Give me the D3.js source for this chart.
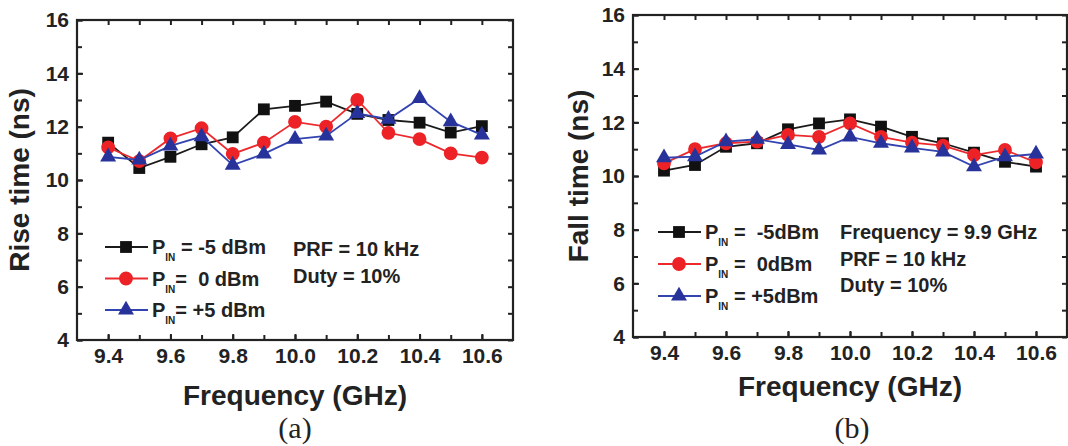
<!DOCTYPE html>
<html>
<head>
<meta charset="utf-8">
<script src="https://cdn.jsdelivr.net/npm/d3@7"></script>
<style>
  html, body { margin: 0; padding: 0; background: #fff; }
  svg { display: block; }
  text { font-family: "Liberation Sans", Arial, sans-serif; font-weight: bold; fill: #222; white-space: pre; }
</style>
</head>
<body>
<svg id="chart" width="1068" height="446"></svg>
<script>
// frequency points (GHz)
const freq = [9.4, 9.5, 9.6, 9.7, 9.8, 9.9, 10.0, 10.1, 10.2, 10.3, 10.4, 10.5, 10.6];
const xTicks = [9.4, 9.6, 9.8, 10.0, 10.2, 10.4, 10.6];
const yTicks = [4, 6, 8, 10, 12, 14, 16];
const yMinor = [5, 7, 9, 11, 13, 15];

// (a) rise time (ns)
const riseM5 = [11.4, 10.45, 10.87, 11.34, 11.6, 12.65, 12.78, 12.94, 12.48, 12.25, 12.15, 11.78, 12.02];
const rise0  = [11.22, 10.71, 11.56, 11.94, 10.98, 11.4, 12.18, 12.0, 13.0, 11.77, 11.53, 11.0, 10.84];
const riseP5 = [10.87, 10.75, 11.28, 11.63, 10.56, 10.98, 11.53, 11.65, 12.5, 12.28, 13.06, 12.19, 11.69];

// (b) fall time (ns)
const fallM5 = [10.2, 10.41, 11.09, 11.22, 11.74, 11.96, 12.11, 11.84, 11.46, 11.22, 10.87, 10.53, 10.35];
const fall0  = [10.47, 11.0, 11.22, 11.28, 11.53, 11.46, 11.96, 11.46, 11.24, 11.13, 10.78, 10.97, 10.51];
const fallP5 = [10.68, 10.72, 11.28, 11.37, 11.18, 10.97, 11.46, 11.22, 11.05, 10.9, 10.35, 10.72, 10.82];

const svg = d3.select('#chart');

const styles = [
    { color: '#1b1b1b', fill: '#111', shape: d3.symbolSquare, size: 140 },
    { color: '#ec2a2e', fill: '#ec2226', shape: d3.symbolCircle, size: 150 },
    { color: '#3344b0', fill: '#27339a', shape: d3.symbolTriangle, size: 110 }
];

function drawPanel(p) {
    const x = d3.scaleLinear().domain([9.3, 10.7]).range([p.left, p.right]);
    const y = d3.scaleLinear().domain([4, 16]).range([p.bottom, p.top]);
    const g = svg.append('g');

    // minor ticks (inward) on all four sides
    const minorAxes = [
        [d3.axisBottom(x).tickValues(freq), p.bottom, 'x'],
        [d3.axisTop(x).tickValues(freq), p.top, 'x'],
        [d3.axisLeft(y).tickValues(yMinor.concat(yTicks)), p.left, 'y'],
        [d3.axisRight(y).tickValues(yMinor.concat(yTicks)), p.right, 'y']
    ];
    minorAxes.forEach(function(a) {
        const ax = a[0].tickSize(-5).tickFormat('');
        const ag = g.append('g')
            .attr('transform', a[2] === 'x' ? 'translate(0,' + a[1] + ')' : 'translate(' + a[1] + ',0)')
            .call(ax);
        ag.select('.domain').remove();
        ag.selectAll('line').attr('stroke', '#222').attr('stroke-width', 2);
    });

    // labels
    const xa = g.append('g')
        .attr('transform', 'translate(0,' + p.bottom + ')')
        .call(d3.axisBottom(x).tickValues(xTicks).tickSize(-6).tickPadding(p.xPad).tickFormat(d3.format('.1f')));
    xa.select('.domain').remove();
    xa.selectAll('line').attr('stroke', '#222').attr('stroke-width', 2);
    xa.selectAll('text').attr('font-size', p.tickFont).style('font-family', '"Liberation Sans", Arial, sans-serif')
        .style('font-weight', 'bold').attr('fill', '#222');

    const ya = g.append('g')
        .attr('transform', 'translate(' + p.left + ',0)')
        .call(d3.axisLeft(y).tickValues(yTicks).tickSize(-6).tickPadding(p.yPad));
    ya.select('.domain').remove();
    ya.selectAll('line').attr('stroke', '#222').attr('stroke-width', 2);
    ya.selectAll('text').attr('font-size', p.tickFont).style('font-family', '"Liberation Sans", Arial, sans-serif')
        .style('font-weight', 'bold').attr('fill', '#222');

    // frame
    g.append('rect')
        .attr('x', p.left).attr('y', p.top)
        .attr('width', p.right - p.left).attr('height', p.bottom - p.top)
        .attr('fill', 'none').attr('stroke', '#222').attr('stroke-width', 2.2);

    // series
    const line = d3.line().x(function(d) { return x(d[0]); }).y(function(d) { return y(d[1]); });
    p.series.forEach(function(vals, i) {
        const st = styles[i];
        const pts = freq.map(function(f, j) { return [f, vals[j]]; });
        g.append('path').attr('d', line(pts)).attr('fill', 'none')
            .attr('stroke', st.color).attr('stroke-width', 1.8);
        g.selectAll(null).data(pts).enter().append('path')
            .attr('transform', function(d) { return 'translate(' + x(d[0]) + ',' + y(d[1]) + ')'; })
            .attr('d', d3.symbol().type(st.shape).size(st.size))
            .attr('fill', st.fill);
    });

    // legend
    p.legend.forEach(function(lbl, i) {
        const st = styles[i];
        const ly = p.legY + i * p.legStep;
        g.append('line').attr('x1', p.legX).attr('x2', p.legX + 43).attr('y1', ly).attr('y2', ly)
            .attr('stroke', st.color).attr('stroke-width', 1.8);
        g.append('path').attr('transform', 'translate(' + (p.legX + 21) + ',' + ly + ')')
            .attr('d', d3.symbol().type(st.shape).size(st.size)).attr('fill', st.fill);
        const t = g.append('text').attr('x', p.legX + 47).attr('y', ly + 7).attr('font-size', p.legFont);
        t.append('tspan').text('P');
        t.append('tspan').attr('font-size', 10).attr('dy', 7).text('IN');
        t.append('tspan').attr('dy', -7).text(lbl);
    });
    p.notes.forEach(function(n, i) {
        g.append('text').attr('x', p.noteX).attr('y', p.noteY + i * p.noteStep)
            .attr('font-size', p.legFont).text(n);
    });

    // axis titles
    g.append('text')
        .attr('transform', 'translate(' + p.yTitleX + ',' + ((p.top + p.bottom) / 2) + ') rotate(-90)')
        .attr('text-anchor', 'middle').attr('font-size', 28).text(p.yTitle);
    g.append('text').attr('x', (p.left + p.right) / 2).attr('y', p.xTitleY)
        .attr('text-anchor', 'middle').attr('font-size', 28).text('Frequency (GHz)');
    g.append('text').attr('x', p.capX).attr('y', 438)
        .attr('text-anchor', 'middle').attr('font-size', 30)
        .style('font-family', '"Liberation Serif", "Times New Roman", serif').style('font-weight', 'normal')
        .text(p.cap);
}

drawPanel({
    left: 77, right: 513, top: 20, bottom: 340,
    xPad: 8, yPad: 8, tickFont: 21,
    series: [riseM5, rise0, riseP5],
    legend: [' = -5 dBm', '=  0 dBm', '= +5 dBm'],
    legX: 105, legY: 247, legStep: 31.5, legFont: 20,
    notes: ['PRF = 10 kHz', 'Duty = 10%'], noteX: 293, noteY: 256, noteStep: 27,
    yTitle: 'Rise time (ns)', yTitleX: 29,
    xTitleY: 405, capX: 295, cap: '(a)'
});

drawPanel({
    left: 633, right: 1067, top: 15, bottom: 337,
    xPad: 8, yPad: 8, tickFont: 21,
    series: [fallM5, fall0, fallP5],
    legend: [' =  -5dBm', ' =  0dBm', ' = +5dBm'],
    legX: 658, legY: 232, legStep: 32, legFont: 20,
    notes: ['Frequency = 9.9 GHz', 'PRF = 10 kHz', 'Duty = 10%'], noteX: 840, noteY: 239, noteStep: 26.5,
    yTitle: 'Fall time (ns)', yTitleX: 588,
    xTitleY: 396, capX: 852, cap: '(b)'
});
</script>
</body>
</html>
